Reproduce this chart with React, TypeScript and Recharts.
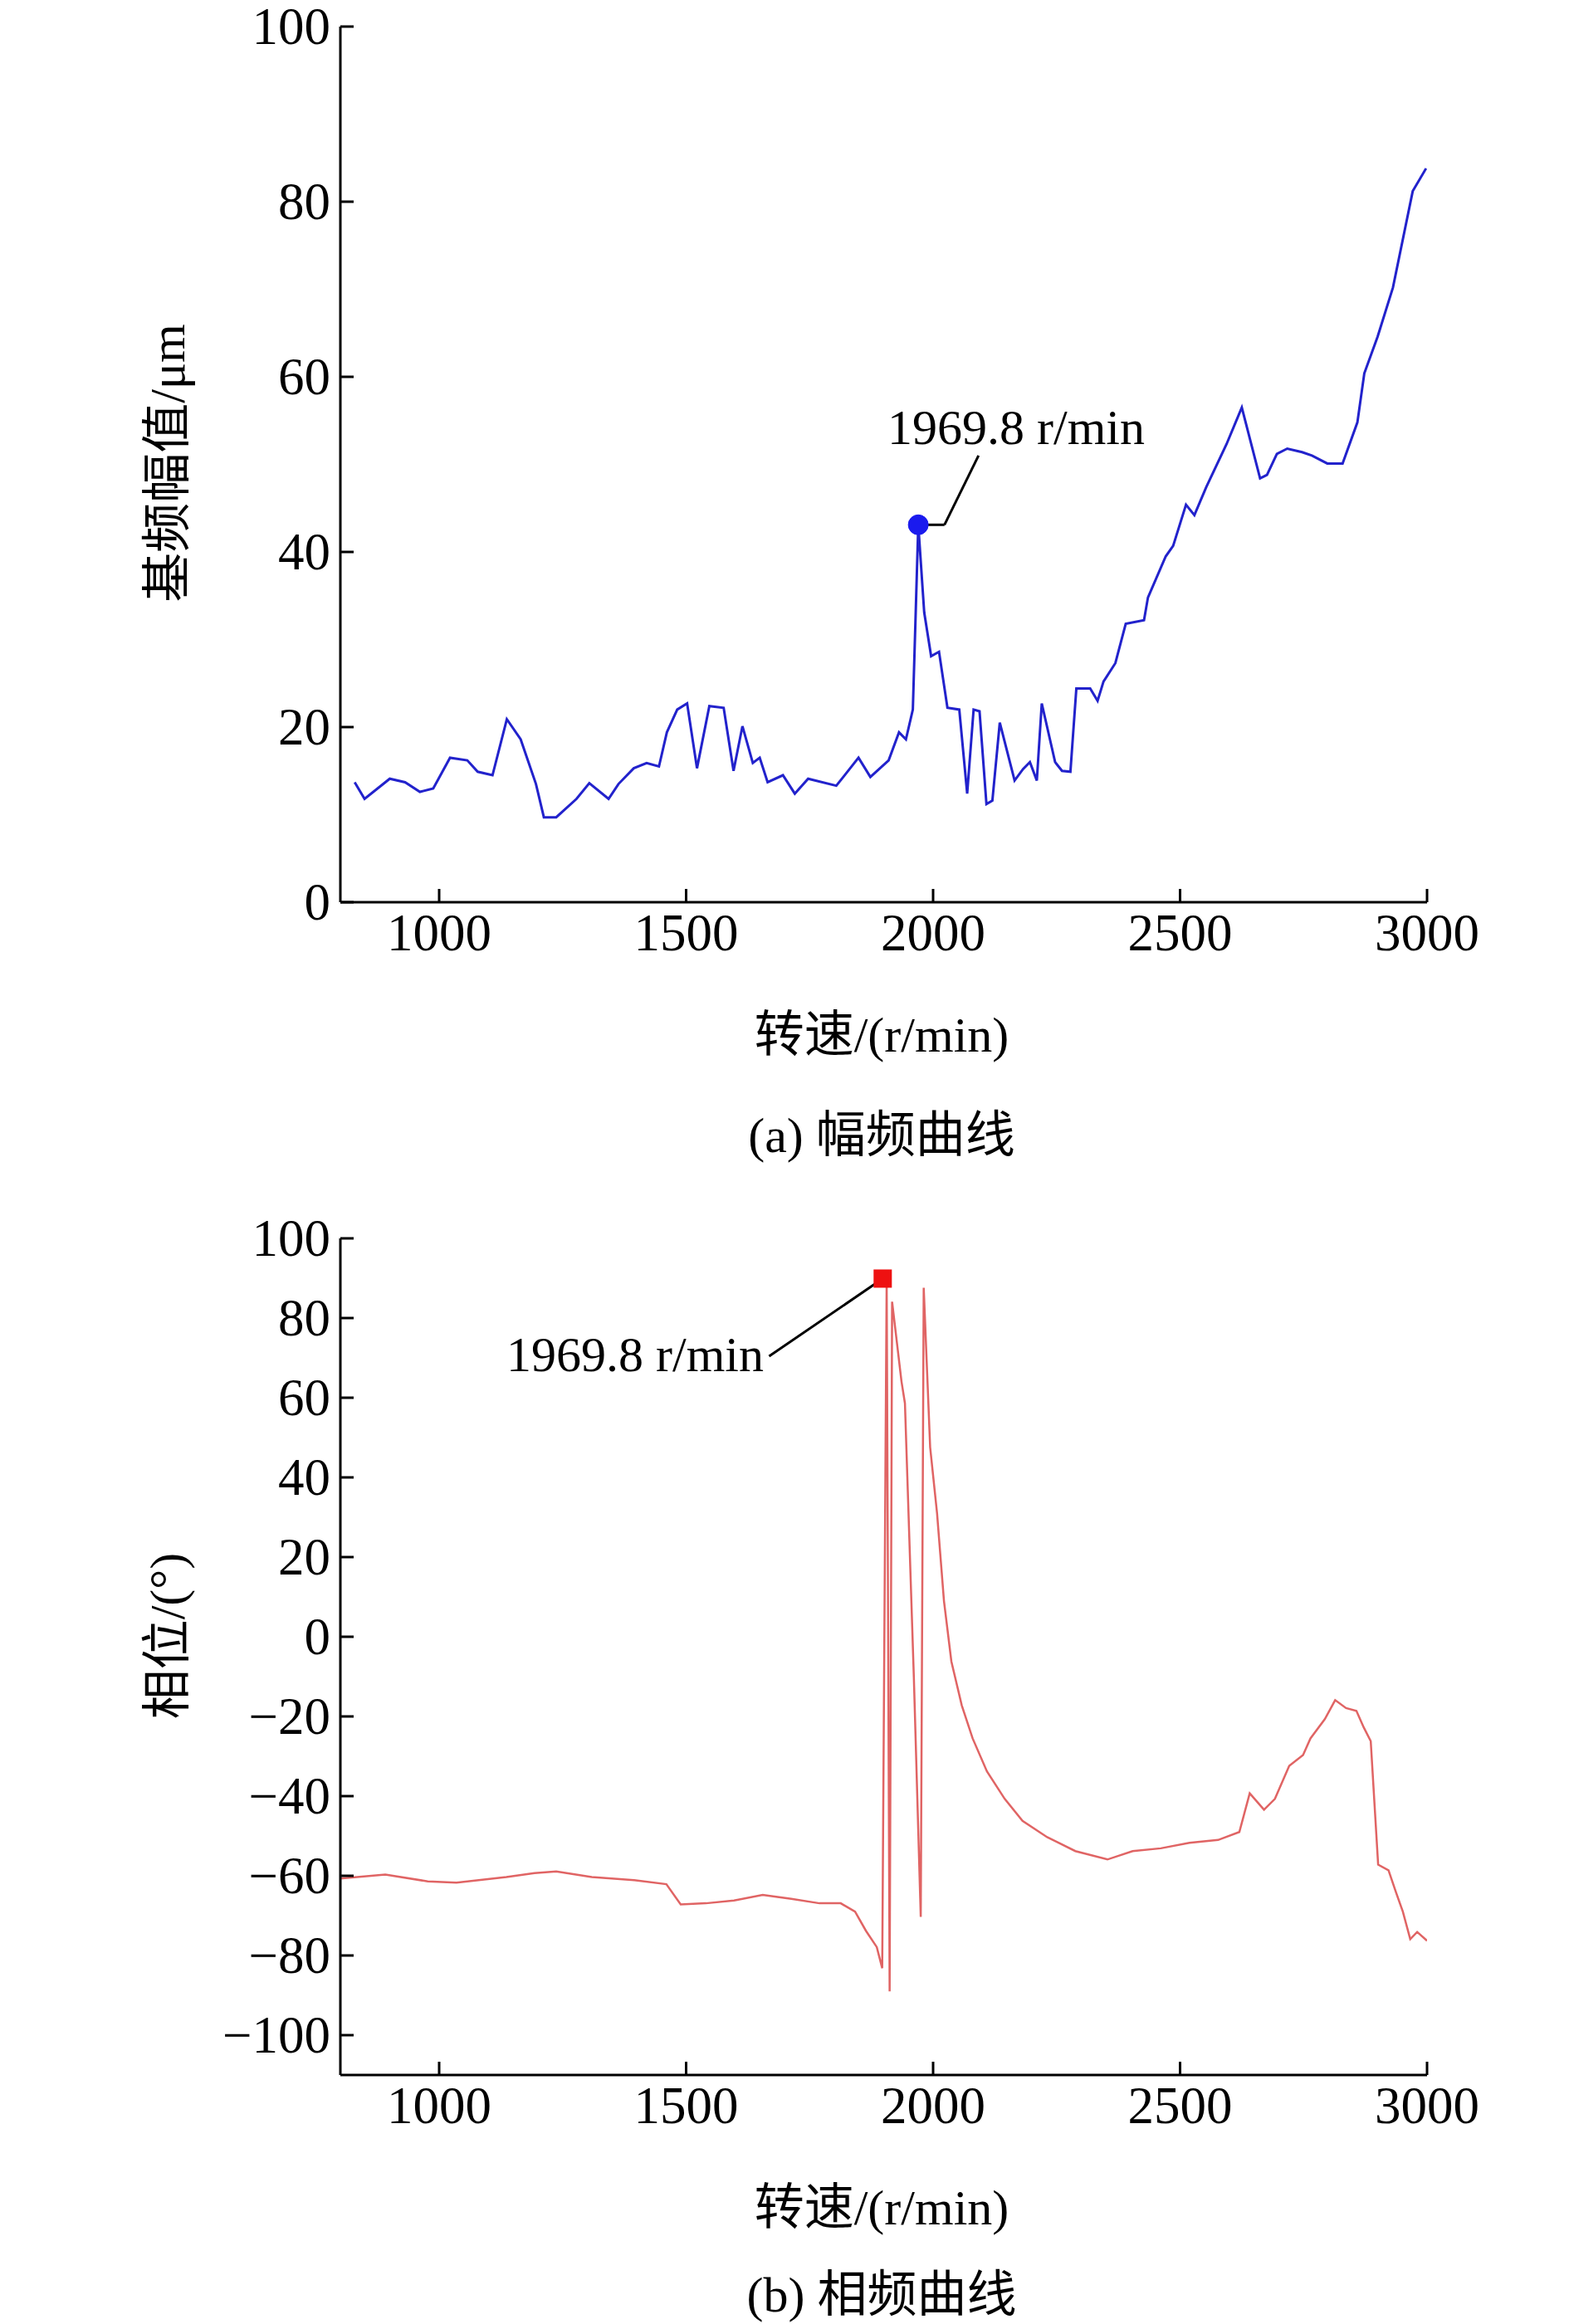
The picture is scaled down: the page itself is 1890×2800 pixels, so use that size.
import React from 'react';
import { LineChart, Line, XAxis, YAxis, ReferenceDot, ReferenceLine } from 'recharts';

const ampSpeed = [829, 849, 900, 931, 961, 988, 1022, 1057, 1078, 1108, 1137, 1165, 1196, 1212, 1237, 1278, 1304, 1343, 1363, 1394, 1420, 1445, 1461, 1482, 1502, 1522, 1547, 1576, 1596, 1614, 1635, 1649, 1665, 1696, 1720, 1747, 1804, 1849, 1873, 1910, 1931, 1945, 1959, 1970, 1982, 1996, 2012, 2029, 2053, 2069, 2082, 2094, 2108, 2120, 2135, 2165, 2182, 2196, 2210, 2220, 2247, 2261, 2278, 2290, 2318, 2333, 2345, 2369, 2390, 2427, 2435, 2471, 2486, 2512, 2529, 2553, 2594, 2625, 2662, 2676, 2696, 2717, 2747, 2767, 2798, 2829, 2859, 2873, 2900, 2931, 2971, 2998];
const ampValue = [13.7, 11.8, 14.1, 13.7, 12.6, 13.0, 16.5, 16.2, 14.9, 14.5, 20.9, 18.6, 13.5, 9.7, 9.7, 11.8, 13.6, 11.8, 13.5, 15.3, 15.9, 15.5, 19.4, 22.0, 22.7, 15.3, 22.4, 22.2, 15.0, 20.1, 15.9, 16.5, 13.7, 14.5, 12.4, 14.1, 13.3, 16.5, 14.3, 16.2, 19.4, 18.6, 22.0, 43.1, 33.1, 28.1, 28.6, 22.2, 22.0, 12.4, 22.0, 21.8, 11.2, 11.6, 20.5, 13.9, 15.2, 16.0, 13.9, 22.7, 16.0, 15.0, 14.9, 24.4, 24.4, 23.0, 25.2, 27.3, 31.8, 32.2, 34.8, 39.5, 40.7, 45.4, 44.2, 47.4, 52.3, 56.5, 48.4, 48.8, 51.2, 51.8, 51.4, 51.0, 50.1, 50.1, 54.8, 60.4, 64.6, 70.2, 81.2, 83.8];

const phaseSpeed = [800, 891, 977, 1035, 1136, 1193, 1237, 1309, 1395, 1460, 1489, 1540, 1597, 1655, 1713, 1770, 1813, 1842, 1864, 1886, 1897, 1906, 1912, 1917, 1936, 1943, 1961, 1975, 1981, 1994, 2008, 2022, 2037, 2058, 2080, 2109, 2145, 2181, 2231, 2288, 2353, 2404, 2461, 2519, 2577, 2620, 2641, 2670, 2692, 2721, 2749, 2764, 2793, 2814, 2836, 2857, 2872, 2886, 2901, 2922, 2937, 2951, 2966, 2980, 3000];
const phaseValue = [-60.7, -59.7, -61.4, -61.7, -60.3, -59.3, -58.9, -60.3, -61.1, -62.1, -67.2, -66.9, -66.2, -64.8, -65.8, -66.9, -66.9, -69.0, -73.8, -77.9, -83.2, 89.7, -89, 84.1, 64.1, 58.6, -10, -70.3, 87.6, 47.6, 31, 9, -6.2, -17.2, -25.5, -33.8, -40.7, -46.2, -50.3, -53.8, -55.9, -53.8, -53.1, -51.7, -51, -49, -39.3, -43.4, -40.7, -32.4, -29.7, -25.5, -20.7, -15.9, -17.9, -18.6, -22.8, -26.2, -57.2, -58.6, -64.1, -69, -75.9, -74.1, -76.3];

const speedTicks = [1000, 1500, 2000, 2500, 3000];
const ampTicks = [0, 20, 40, 60, 80, 100];
const phaseTicks = [-100, -80, -60, -40, -20, 0, 20, 40, 60, 80, 100];

const ampData = ampSpeed.map((s, i) => ({ speed: s, value: ampValue[i] }));
const phaseData = phaseSpeed.map((s, i) => ({ speed: s, value: phaseValue[i] }));

const FONT = "'Liberation Serif', 'Noto Sans CJK SC', serif";
const fmt = (v: number) => (v < 0 ? '\u2212' + Math.abs(v) : String(v));

const XTick = (props: any) => {
  const { x, y, payload } = props;
  return (
    <g>
      <line x1={x} y1={y} x2={x} y2={y - 16} stroke="#000" strokeWidth={3} />
      <text x={x} y={y + 58} textAnchor="middle" fontSize={63} fontFamily={FONT} fill="#000">{payload.value}</text>
    </g>
  );
};

const YTick = (props: any) => {
  const { x, y, payload } = props;
  return (
    <g>
      <line x1={x} y1={y} x2={x + 16} y2={y} stroke="#000" strokeWidth={3} />
      <text x={x - 12} y={y + 21} textAnchor="end" fontSize={63} fontFamily={FONT} fill="#000">{fmt(payload.value)}</text>
    </g>
  );
};

const Label = ({ x, y, text, vertical, anchor }: { x: number; y: number; text: string; vertical?: boolean; anchor?: string }) => (
  <div
    style={{
      position: 'absolute', left: x, top: y, fontFamily: FONT, fontSize: 60, whiteSpace: 'nowrap', lineHeight: 1,
      transform: vertical ? 'translate(-50%,-50%) rotate(-90deg)' : anchor === 'end' ? 'translate(-100%,-50%)' : 'translate(-50%,-50%)',
    }}
  >
    {text}
  </div>
);

const W = 1890;
const YW = 80;
const svgStyle = { overflow: 'visible' as const };

export default function App() {
  return (
    <div style={{ position: 'absolute', left: 0, top: 0, width: 1890, height: 2800, background: '#fff' }}>
      <div style={{ position: 'absolute', left: 0, top: 0 }}>
        <LineChart width={W} height={1400} data={ampData} style={svgStyle} margin={{ left: 410 - YW, right: 171, top: 32, bottom: 0 }}>
          <XAxis dataKey="speed" type="number" domain={[800, 3000]} ticks={speedTicks} height={313}
            axisLine={{ stroke: '#000', strokeWidth: 3 }} tickLine={false} tickSize={0} tickMargin={0} tick={<XTick />} allowDataOverflow />
          <YAxis type="number" domain={[0, 100]} ticks={ampTicks} width={YW}
            axisLine={{ stroke: '#000', strokeWidth: 3 }} tickLine={false} tickSize={0} tickMargin={0} tick={<YTick />} />
          <Line dataKey="value" stroke="#2222cc" strokeWidth={3} dot={false} isAnimationActive={false} />
          <ReferenceLine segment={[{ x: 1970, y: 43.1 }, { x: 2023, y: 43.1 }]} stroke="#000" strokeWidth={3} />
          <ReferenceLine segment={[{ x: 2023, y: 43.1 }, { x: 2092, y: 51.0 }]} stroke="#000" strokeWidth={3} />
          <ReferenceDot x={1970} y={43.1} r={12} fill="#1a1aee" stroke="#1a1aee" />
        </LineChart>
      </div>
      <div style={{ position: 'absolute', left: 0, top: 1460 }}>
        <LineChart width={W} height={1340} data={phaseData} style={svgStyle} margin={{ left: 410 - YW, right: 171, top: 32, bottom: 0 }}>
          <XAxis dataKey="speed" type="number" domain={[800, 3000]} ticks={speedTicks} height={300}
            axisLine={{ stroke: '#000', strokeWidth: 3 }} tickLine={false} tickSize={0} tickMargin={0} tick={<XTick />} allowDataOverflow />
          <YAxis type="number" domain={[-110, 100]} ticks={phaseTicks} width={YW}
            axisLine={{ stroke: '#000', strokeWidth: 3 }} tickLine={false} tickSize={0} tickMargin={0} tick={<YTick />} allowDataOverflow />
          <Line dataKey="value" stroke="#e06464" strokeWidth={2.5} dot={false} isAnimationActive={false} />
          <ReferenceLine segment={[{ x: 1898, y: 89.9 }, { x: 1668, y: 70.4 }]} stroke="#000" strokeWidth={3} />
          <ReferenceDot x={1898} y={89.9} r={0} shape={(p: any) => <rect x={p.cx - 11} y={p.cy - 11} width={22} height={22} fill="#ee1111" />} />
        </LineChart>
      </div>
      <Label x={1224} y={515} text="1969.8 r/min" />
      <Label x={920} y={1632} text="1969.8 r/min" anchor="end" />
      <Label x={202} y={558} text="基频幅值/μm" vertical />
      <Label x={1062} y={1247} text="转速/(r/min)" />
      <Label x={1062} y={1368} text="(a) 幅频曲线" />
      <Label x={202} y={1971} text="相位/(°)" vertical />
      <Label x={1062} y={2660} text="转速/(r/min)" />
      <Label x={1062} y={2765} text="(b) 相频曲线" />
    </div>
  );
}
